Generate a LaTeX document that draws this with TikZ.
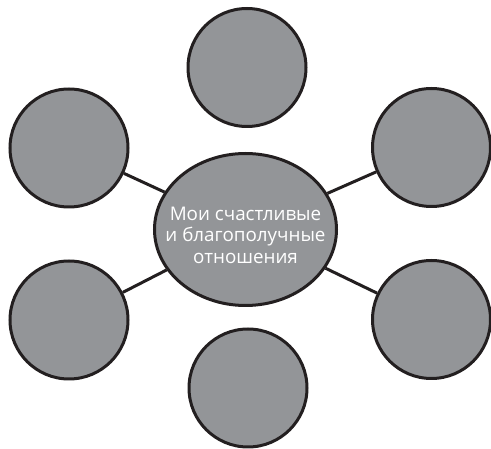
\documentclass[tikz,border=0pt]{standalone}
\usepackage{fontspec}
\setmainfont{Open Sans}
\usetikzlibrary{shapes.geometric}
\definecolor{bubblegray}{HTML}{939598}
\definecolor{edgeblack}{HTML}{231F20}
\tikzset{
  bubble/.style={circle, draw=edgeblack, fill=bubblegray, line width=3pt, minimum size=118pt, inner sep=0pt},
  hub/.style={ellipse, draw=edgeblack, fill=bubblegray, line width=3pt, minimum width=182pt, minimum height=152pt, inner sep=0pt},
  link/.style={draw=edgeblack, line width=3pt},
  hubtext/.style={text=white, align=center, font=\fontsize{18.8}{21.5}\selectfont}
}
\begin{document}
\begin{tikzpicture}[x=1pt,y=-1pt]
\useasboundingbox (0,0) rectangle (491,449);
\node[hub] (hub) at (245.5,229.5) {};
\node[bubble] (top) at (247,67.5) {};
\node[bubble] (tl) at (69,148) {};
\node[bubble] (tr) at (431.5,147.5) {};
\node[bubble] (bl) at (69,320) {};
\node[bubble] (br) at (431.5,319.5) {};
\node[bubble] (bot) at (248,388) {};
\draw[link] (tl) -- (hub);
\draw[link] (tr) -- (hub);
\draw[link] (bl) -- (hub);
\draw[link] (br) -- (hub);
\node[hubtext] (label) at (245.5,235) {Мои счастливые\\и благополучные\\отношения};
\end{tikzpicture}
\end{document}
